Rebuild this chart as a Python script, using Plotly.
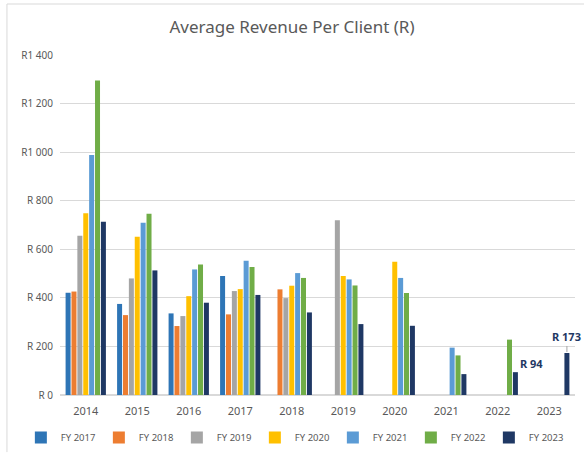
import plotly.graph_objects as go

# Categories and series values
years = ["2014", "2015", "2016", "2017", "2018", "2019", "2020", "2021", "2022", "2023"]

fy2017 = [421, 375, 336, 490, None, None, None, None, None, None]
fy2018 = [426, 329, 284, 332, 435, None, None, None, None, None]
fy2019 = [656, 480, 325, 428, 399, 720, None, None, None, None]
fy2020 = [748, 652, 407, 436, 450, 490, 549, None, None, None]
fy2021 = [988, 709, 517, 553, 502, 476, 482, 195, None, None]
fy2022 = [1295, 746, 537, 527, 482, 451, 420, 163, 228, None]
fy2023 = [713, 513, 380, 412, 340, 292, 285, 86, 94, 173]

series_names = ["FY 2017", "FY 2018", "FY 2019", "FY 2020", "FY 2021", "FY 2022", "FY 2023"]
series_values = [fy2017, fy2018, fy2019, fy2020, fy2021, fy2022, fy2023]
colors = ["#2E75B6", "#ED7D31", "#A5A5A5", "#FFC000", "#5B9BD5", "#70AD47", "#1F3864"]

tick_vals = [0, 200, 400, 600, 800, 1000, 1200, 1400]
tick_text = ["R 0", "R 200", "R 400", "R 600", "R 800", "R1 000", "R1 200", "R1 400"]

fig = go.Figure()
for name, vals, col in zip(series_names, series_values, colors):
    fig.add_trace(
        go.Bar(
            x=years,
            y=vals,
            name=name,
            marker=dict(color=col, line=dict(width=0)),
        )
    )

# Data labels for the last series (2022 and 2023), placed by category index
plot_w = 584 - 60 - 9
slot = plot_w / len(years) * 0.8 / len(series_names)
offset = 3 * slot
i22 = years.index("2022")
i23 = years.index("2023")
fig.add_annotation(
    x=i22, y=fy2023[i22], text="<b>R 94</b>", showarrow=False,
    xshift=offset + 16, yshift=9, font=dict(size=11, color="#1F3864"),
)
fig.add_annotation(
    x=i23, y=fy2023[i23], text="<b>R 173</b>", showarrow=True,
    arrowhead=0, arrowwidth=1, arrowcolor="#A6A6A6", ax=0, ay=-16,
    standoff=1, xshift=offset, font=dict(size=11, color="#1F3864"),
)

# Chart area border (left and top edges visible)
fig.add_shape(
    type="path", xref="paper", yref="paper",
    path="M -0.103,-0.168 L -0.103,1.15 L 1.02,1.15",
    line=dict(color="#D9D9D9", width=1),
)

fig.update_layout(
    width=584,
    height=457,
    margin=dict(l=60, r=9, t=55, b=62, autoexpand=False),
    paper_bgcolor="white",
    plot_bgcolor="white",
    font=dict(family="Noto Sans", color="#595959", size=11),
    title=dict(
        text="Average Revenue Per Client (R)",
        x=0.5, xanchor="center", y=0.94, yanchor="middle",
        font=dict(size=17, color="#595959"),
    ),
    barmode="group",
    bargap=0.2,
    bargroupgap=0.15,
    showlegend=True,
    legend=dict(
        orientation="h", x=-0.076, xanchor="left", y=-0.125, yanchor="middle",
        font=dict(size=9.5, color="#595959"),
        entrywidth=33, entrywidthmode="pixels", itemwidth=30,
    ),
    xaxis=dict(
        type="category", range=[-0.5, len(years) - 0.5],
        showgrid=False, showline=False, ticks="", tickfont=dict(size=11),
        ticklabelstandoff=8,
    ),
    yaxis=dict(
        range=[0, 1400], tickvals=tick_vals, ticktext=tick_text,
        showgrid=True, gridcolor="#D9D9D9", gridwidth=1,
        zeroline=True, zerolinecolor="#D9D9D9", showline=False,
        ticks="", tickfont=dict(size=10), ticklabelstandoff=6,
    ),
)

fig.write_html(
    "out.html",
    config={"displayModeBar": False},
    post_script="document.body.style.margin='0';",
)
